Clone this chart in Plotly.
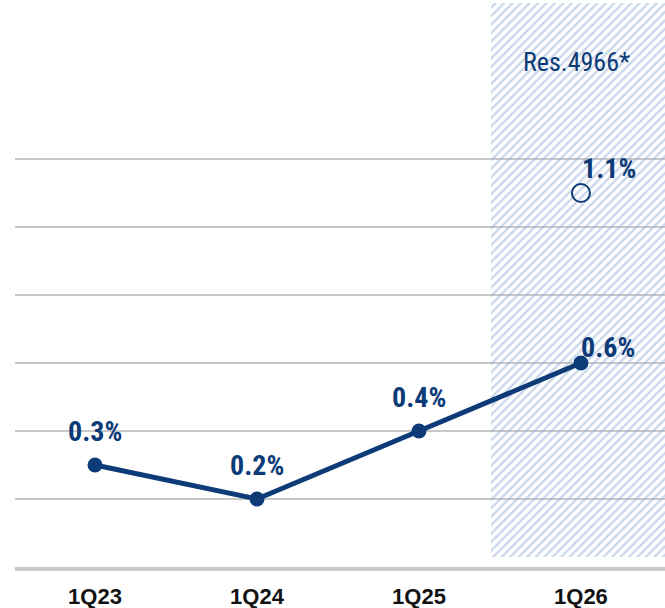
import plotly.graph_objects as go

quarters = ["1Q23", "1Q24", "1Q25", "1Q26"]
ratio = [0.3, 0.2, 0.4, 0.6]
ratio_labels = ["0.3%", "0.2%", "0.4%", "0.6%"]
res_quarter = "1Q26"
res_value = 1.1
res_label = "1.1%"
res_title = "Res.4966*"
grid_vals = [0.2, 0.4, 0.6, 0.8, 1.0, 1.2]

NAVY = "#0c3b77"
COND_BOLD = "Roboto Condensed, Liberation Sans Narrow, DejaVu Sans Condensed, Arial Narrow, Roboto"
xs = list(range(len(quarters)))
xi_res = quarters.index(res_quarter)
Y_TOP = 1.6676

fig = go.Figure()

# hatched projection region behind the last quarter
fig.add_trace(go.Bar(
    x=[xi_res - 0.0185], y=[1.659 - 0.029], base=[0.029], width=[1.075],
    marker=dict(color="rgba(0,0,0,0)", line=dict(width=0),
                pattern=dict(shape="/", fgcolor="#93aed5", bgcolor="rgba(0,0,0,0)",
                             size=6, solidity=0.38)),
    hoverinfo="skip", showlegend=False,
))

fig.add_trace(go.Scatter(
    x=xs, y=ratio, mode="lines+markers",
    line=dict(color=NAVY, width=5),
    marker=dict(color=NAVY, size=15),
    showlegend=False,
))

fig.add_trace(go.Scatter(
    x=[xi_res], y=[res_value], mode="markers",
    marker=dict(symbol="circle-open", color=NAVY, size=18, line=dict(width=2, color=NAVY)),
    showlegend=False,
))

for i, (v, t) in enumerate(zip(ratio, ratio_labels)):
    last = i == len(ratio) - 1
    fig.add_annotation(
        x=i, y=v, text=t, showarrow=False,
        xanchor="left" if last else "center", yanchor="middle",
        xshift=-2 if last else 0, yshift=15 if last else 34,
        font=dict(family=COND_BOLD, size=28, color=NAVY, weight="bold"),
    )

fig.add_annotation(
    x=xi_res, y=res_value, text=res_label, showarrow=False,
    xanchor="left", yanchor="middle", xshift=-1, yshift=24,
    font=dict(family=COND_BOLD, size=28, color=NAVY, weight="bold"),
)
fig.add_annotation(
    x=xi_res, y=1.484, text=res_title, showarrow=False,
    xanchor="center", yanchor="middle", xshift=-4,
    font=dict(family="Roboto Condensed, Liberation Sans Narrow, DejaVu Sans Condensed, Roboto",
              size=26, color=NAVY),
)

fig.update_layout(
    width=665, height=608,
    margin=dict(l=15, r=0, t=0, b=41),
    paper_bgcolor="white", plot_bgcolor="white",
    bargap=0,
)
fig.update_xaxes(
    range=[-0.494, 3.519], tickmode="array", tickvals=xs, ticktext=quarters,
    showgrid=False, zeroline=False, showline=True, linecolor="#c8c8c8", linewidth=4,
    ticks="", tickfont=dict(family="Liberation Sans, Arial", size=22, color="#111111", weight="bold"),
    ticklabelstandoff=7, automargin=False,
)
fig.update_yaxes(
    range=[0, Y_TOP], tickmode="array", tickvals=grid_vals,
    showticklabels=False, showgrid=True, gridcolor="#c8c8c8", gridwidth=2,
    zeroline=False, showline=False, ticks="", automargin=False,
)

fig.write_html(
    "out.html",
    config={"displayModeBar": False},
    post_script="document.body.style.margin='0';document.body.style.overflow='hidden';",
)
